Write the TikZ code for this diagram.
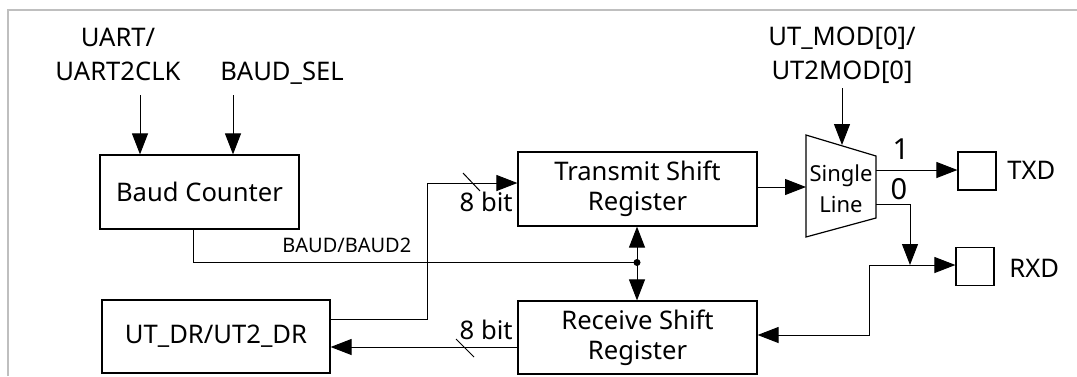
\documentclass[tikz,border=0pt]{standalone}
\usepackage{fontspec}
\setmainfont{Noto Sans}
\usetikzlibrary{arrows.meta}

\tikzset{
	blk/.style={draw, line width=0.6pt, inner sep=0pt, font=\fontsize{12.8}{15}\selectfont},
	pin/.style={draw, line width=0.6pt, minimum size=19pt, inner sep=0pt},
	lbl/.style={font=\fontsize{12.8}{17}\selectfont, align=center, inner sep=0pt},
	sig/.style={line width=0.5pt, -{Triangle[length=10.5pt,width=8pt]}},
	wire/.style={line width=0.5pt}
}

\begin{document}
\begin{tikzpicture}[x=0.5pt, y=-0.5pt]
		\useasboundingbox (0,0) rectangle (1077,376);
		\draw[color=black!25, line width=1pt] (7.5,376) -- (7.5,9.5) -- (1077,9.5);
		
		% blocks
		\node[blk, minimum width=99.5pt, minimum height=37pt] (bc) at (199.5,192) {Baud Counter};
		\node[blk, minimum width=114pt, minimum height=36.5pt] (dr) at (216,336.5) {UT\_DR/UT2\_DR};
		\node[blk, minimum width=119.5pt, minimum height=37pt, align=center] (tx) at (637.5,189) {Transmit Shift\\Register};
		\node[blk, minimum width=119.5pt, minimum height=36.5pt, align=center] (rx) at (637.5,337.5) {Receive Shift\\Register};
		\node[pin] (txd) at (977,171) {};
		\node[pin] (rxd) at (975,266.5) {};
		
		% mux
		\coordinate (M1) at (806,135);
		\coordinate (M2) at (876,156);
		\coordinate (M3) at (876,218);
		\coordinate (M4) at (806,237);
		\draw[line width=0.6pt] (M1) -- (M2) -- (M3) -- (M4) -- cycle;
		\node[align=center, inner sep=0pt, font=\fontsize{11}{15.5}\selectfont] (mux) at (841,189) {Single\\Line};
		
		% labels
		\node[lbl] (clk) at (118,54) {UART/\\UART2CLK};
		\node[lbl] (sel) at (282,73) {BAUD\_SEL};
		\node[lbl] (mod) at (842,55) {UT\_MOD[0]/\\UT2MOD[0]};
		\node[lbl, anchor=west] (txdl) at (1007,170) {TXD};
		\node[lbl, anchor=west] (rxdl) at (1009,268) {RXD};
		\node[lbl, font=\fontsize{14.5}{17}\selectfont] (one) at (901,149) {1};
		\node[lbl, font=\fontsize{14.5}{17}\selectfont] (zero) at (899,189) {0};
		\node[lbl, anchor=east] (btx) at (513,202) {8 bit};
		\node[lbl, anchor=east] (brx) at (513,330) {8 bit};
		\node[anchor=west, inner sep=0pt, font=\fontsize{10}{12}\selectfont] (baud) at (282,245) {BAUD/BAUD2};
		
		% inputs
		\draw[sig] (140,95) -- (bc.north -| 140,0);
		\draw[sig] (233,95) -- (bc.north -| 233,0);
		\draw[sig] (842,88) -- (842,145);
		
		% baud clock to both shift registers
		\coordinate (J) at (637,262.5);
		\draw[wire] (bc.south -| 193,0) -- (193,262.5) -- (J);
		\draw[sig] (J) -- (tx.south -| J);
		\draw[sig] (J) -- (rx.north -| J);
		\fill (J) circle (3.5);
		
		% data paths
		\draw[sig] (dr.east |- 0,319) -- (427,319) -- (427,183) -- (tx.west |- 0,183);
		\draw[wire] (463,173) -- (480,191);
		\draw[sig] (rx.west |- 0,347) -- (dr.east |- 0,347);
		\draw[wire] (456,339) -- (474,357);
		
		% mux in and outs
		\draw[sig] (tx.east |- 0,187) -- (806,187);
		\draw[sig] (876,170) -- (txd.west |- 0,170);
		\coordinate (R) at (869,265);
		\draw[sig] (876,204) -- (910,204) -- (910,265);
		\draw[sig] (R) -- (rxd.west |- R);
		\draw[sig] (R) -- (869,335) -- (rx.east |- 0,335);
		\end{tikzpicture}
\end{document}
